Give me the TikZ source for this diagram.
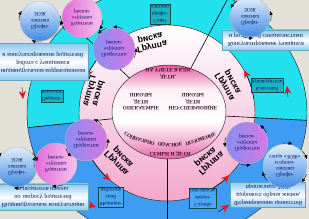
\documentclass[tikz,border=0pt]{standalone}
\usepackage{fontspec}
\setmainfont{Liberation Serif}
\newfontfamily\groupfont{Liberation Sans}
\usetikzlibrary{arrows.meta,calc}

\definecolor{paper}{HTML}{E3E0D8}
\definecolor{ringcyan}{HTML}{22E0EE}
\definecolor{ringblue}{HTML}{3E9CF2}
\definecolor{ringpink}{HTML}{F2A8CB}
\definecolor{corepink}{HTML}{E4519A}
\definecolor{corelight}{HTML}{FDF1F6}
\definecolor{sphereblue}{HTML}{3E8BE4}
\definecolor{rosea}{HTML}{E36AD9}
\definecolor{roseb}{HTML}{F6C3EE}
\definecolor{lilaca}{HTML}{898DF2}
\definecolor{lilacb}{HTML}{D777E3}
\definecolor{boxblue}{HTML}{8FCBF0}
\definecolor{tagteal}{HTML}{18B5C1}
\definecolor{tagblue}{HTML}{4AA7F1}
\definecolor{inknavy}{HTML}{0B1660}
\definecolor{inkplum}{HTML}{3A0B2C}
\definecolor{arrowred}{HTML}{E3161E}

% core: deep pink rim at the top, white middle, pink bottom
\pgfdeclareverticalshading{coreshade}{100bp}{color(0bp)=(corepink);
  color(25bp)=(corepink!90!white); color(33bp)=(corepink!50!white);
  color(45bp)=(white); color(62bp)=(corelight); color(70bp)=(corepink!60!white);
  color(75bp)=(corepink); color(100bp)=(corepink)}

\begin{document}
\begin{tikzpicture}[x=1pt,y=-1pt,>=Latex,
  upend/.style={yscale=-1},
  outline/.style={draw=black!85,line width=0.45pt},
  spoke/.style={draw=black,line width=0.6pt},
  groupname/.style={font=\groupfont\bfseries\fontsize{8.8}{8.8}\selectfont,align=center,inner sep=0pt},
  coretext/.style={font=\bfseries\fontsize{5.2}{6.6}\selectfont,text=inkplum,align=center,inner sep=0pt,upend},
  arcletter/.style={font=\bfseries\fontsize{5.2}{6}\selectfont,text=inkplum,inner sep=0pt},
  circletext/.style={font=\fontsize{5.5}{6.2}\selectfont,text=inknavy,align=center,inner sep=0pt,upend},
  rosy/.style={circle,draw=gray!55,minimum size=#1,left color=rosea,right color=roseb,circletext},
  lilac/.style={circle,draw=gray!55,minimum size=#1,left color=lilaca,right color=lilacb,circletext},
  sphere/.style={draw=gray!55,top color=white!85!sphereblue,bottom color=sphereblue},
  infobox/.style={draw=gray!50!cyan,top color=boxblue,bottom color=boxblue,middle color=white,
    minimum width=#1,inner sep=1.5pt,align=center,text=inknavy,font=\fontsize{6.2}{7.8}\selectfont,upend},
  ringtag/.style={fill=#1,draw=teal!60!black,line width=0.3pt,inner sep=1pt,align=center,
    text=inknavy,font=\fontsize{5.3}{6.9}\selectfont,upend},
  bltip/.style={-{Latex[length=4pt,width=3.4pt]},line width=0.4pt},
  redtip/.style={-{Stealth[length=8pt,width=7pt,color=arrowred]},line width=0.4pt}]

  \useasboundingbox (0,0) rectangle (309,219);
  \fill[paper] (0,0) rectangle (309,219);
  \coordinate (ctr) at (167,113);

  % outer ring of specialists
  \begin{scope}
    \clip (ctr) ellipse [x radius=140, y radius=128];
    \fill[ringblue] (-20,-20) rectangle (330,250);
    \fill[ringcyan] (ctr) -- ($(ctr)+(3:230)$) -- (420,-60) -- (-80,-60) -- ($(ctr)+(174:230)$) -- cycle;
  \end{scope}
  % ring of the risk groups
  \shade[top color=white, middle color=white!65!ringpink, bottom color=ringpink] (ctr) circle [radius=88];
  \begin{scope}
    \clip (ctr) ellipse [x radius=140, y radius=128];
    \foreach \ang in {-62,-137,174,3,90}
      \draw[spoke] (ctr) -- ++(\ang:230);
  \end{scope}
  \draw[outline] (ctr) ellipse [x radius=140, y radius=128];
  \draw[outline] (ctr) circle [radius=88];
  % core
  \shade[shading=coreshade] (169,112) ellipse [x radius=57, y radius=47];
  \draw[outline] (169,112) ellipse [x radius=57, y radius=47];

  \foreach \a in {-156,-29,130,45}
    \draw[redtip] ($(ctr)+(\a+20:88)$) arc [start angle=\a+20, end angle=\a, radius=88];
  \draw[redtip] (22,87) -- (23,99);
  \draw[redtip] (288,97) -- (287,86);
  \draw[redtip] (83,203) -- (96,207);
  \draw[redtip] (218,212) -- (229,205);

  % texts in the core
  \node[coretext] (coreTop) at (168,73) {ДЕТИ,\\НА УЧЕТЕ В КДН};
  \node[coretext] (coreL) at (141,102) {ОПЕКАЕМЫЕ\\ДЕТИ\\ШКОЛЫ};
  \node[coretext] (coreR) at (193,102) {НЕУСПЕВАЮЩИЕ\\ДЕТИ\\ШКОЛЫ};
  \node[coretext] (coreBot) at (170,154) {СЕМЬИ И ДЕТИ};
  \coordinate (arcmid) at (170,50);
  \foreach \ch [count=\i] in {С,О,Ц,И,А,Л,Ь,Н,О,{},О,П,А,С,Н,О,Е,{},П,О,Л,О,Ж,Е,Н,И,Е}{
    \pgfmathsetmacro{\a}{117.5-(\i-1)*2.12}
    \node[arcletter,rotate=90-\a,upend] (ch\i) at ($(arcmid)+(\a:95)$) {\ch};
  }

  % risk groups
  \node[groupname,rotate=13,upend] (grpT) at (151,42) {Группа\\риска};
  \node[groupname,rotate=-106,upend] (grpL) at (94,92) {Группа\\риска};
  \node[groupname,rotate=-46,upend] (grpBL) at (120,160) {Группа\\риска};
  \node[groupname,rotate=42,upend] (grpBR) at (208,160) {Группа\\риска};
  \node[groupname,rotate=-60,upend] (grpR) at (229,84) {Группа\\риска};

  % specialists
  \node[ringtag=tagteal] (tagT) at (160,14) {Совет\\профи-\\лактики};
  \node[ringtag=tagteal] (tagL) at (52,96) {Педагог-\\психолог};
  \node[ringtag=tagteal] (tagR) at (267,85) {Классный\\руководитель};
  \node[ringtag=tagblue] (tagBL) at (111,197) {Медицин-\\ский\\работник};
  \node[ringtag=tagblue] (tagBR) at (203,198) {Служба\\медиа-\\ции школы};

  % forms of work
  \node[infobox=90pt,minimum height=37pt] (boxL) at (43,62)
    {индивидуальная коррекционная\\работа с учащимися\\и консультирование родителей};
  \node[infobox=87pt,minimum height=20pt] (boxTR) at (266,40)
    {Консультирование учащихся\\и родителей специалистами};
  \node[infobox=90pt,minimum height=26pt] (boxBL) at (43,197)
    {Индивидуальные консультации\\по запросу родителей\\и педагогов школы};
  \node[infobox=75pt,minimum height=25pt] (boxBR) at (268,195)
    {Формирование ценностей\\здорового образа жизни,\\пропаганда ЗОЖ};

  % prevention spheres
  \coordinate (zojA) at (40,21);
  \coordinate (zojB) at (250,17);
  \coordinate (zojC) at (17,167);
  \coordinate (zojD) at (285,166);
  \shade[sphere] (zojA) circle [radius=20];
  \shade[sphere] (zojB) circle [radius=20];
  \shade[sphere] (zojC) circle [radius=20];
  \shade[sphere] (zojD) circle [radius=22];
  \node[circletext] (zojAtext) at (zojA) {Профи-\\лактика\\ЗОЖ};
  \node[circletext] (zojBtext) at (zojB) {Профи-\\лактика\\ЗОЖ};
  \node[circletext] (zojCtext) at (zojC) {Профи-\\лактика\\ЗОЖ};
  \node[circletext] (zojDtext) at (zojD) {Профи-\\лактика\\и пропа-\\ганда «ЗОЖ»};

  % parents and teenagers
  \node[rosy=40pt] (roseA) at (82,18) {Родители\\«группы\\риска»};
  \node[rosy=42pt] (roseB) at (56,164) {Родители\\«группы\\риска»};
  \node[lilac=42pt] (lilacA) at (114,49) {Подростки\\«группы\\риска»};
  \node[lilac=42pt] (lilacB) at (86,140) {Подростки\\«группы\\риска»};
  \node[lilac=42pt] (lilacC) at (247,143) {Подростки\\«группы\\риска»};

  % arrows round the circles
  \foreach \a in {-151,13,114}
    \draw[bltip] ($(zojA)+(\a-28:21)$) arc [start angle=\a-28, end angle=\a, radius=21];
  \foreach \a in {-156,-17,81}
    \draw[bltip] ($(zojB)+(\a+28:21)$) arc [start angle=\a+28, end angle=\a, radius=21];
  \foreach \a in {-137,-15,99}
    \draw[bltip] ($(zojC)+(\a-28:21)$) arc [start angle=\a-28, end angle=\a, radius=21];
  \foreach \a in {-71,-17,45,166}
    \draw[bltip] ($(zojD)+(\a-24:23)$) arc [start angle=\a-24, end angle=\a, radius=23];
  \foreach \a in {174,34}
    \draw[bltip] ($(roseA)+(\a-28:21)$) arc [start angle=\a-28, end angle=\a, radius=21];
  \foreach \a in {101,-160}
    \draw[bltip] ($(roseB)+(\a-28:22)$) arc [start angle=\a-28, end angle=\a, radius=22];
  \foreach \a in {-137,-93,-3}
    \draw[bltip] ($(lilacA)+(\a+26:22)$) arc [start angle=\a+26, end angle=\a, radius=22];
  \foreach \a in {-70,131,-4}
    \draw[bltip] ($(lilacB)+(\a+26:22)$) arc [start angle=\a+26, end angle=\a, radius=22];
  \foreach \a in {-54,80,169}
    \draw[bltip] ($(lilacC)+(\a+26:22)$) arc [start angle=\a+26, end angle=\a, radius=22];
\end{tikzpicture}
\end{document}
